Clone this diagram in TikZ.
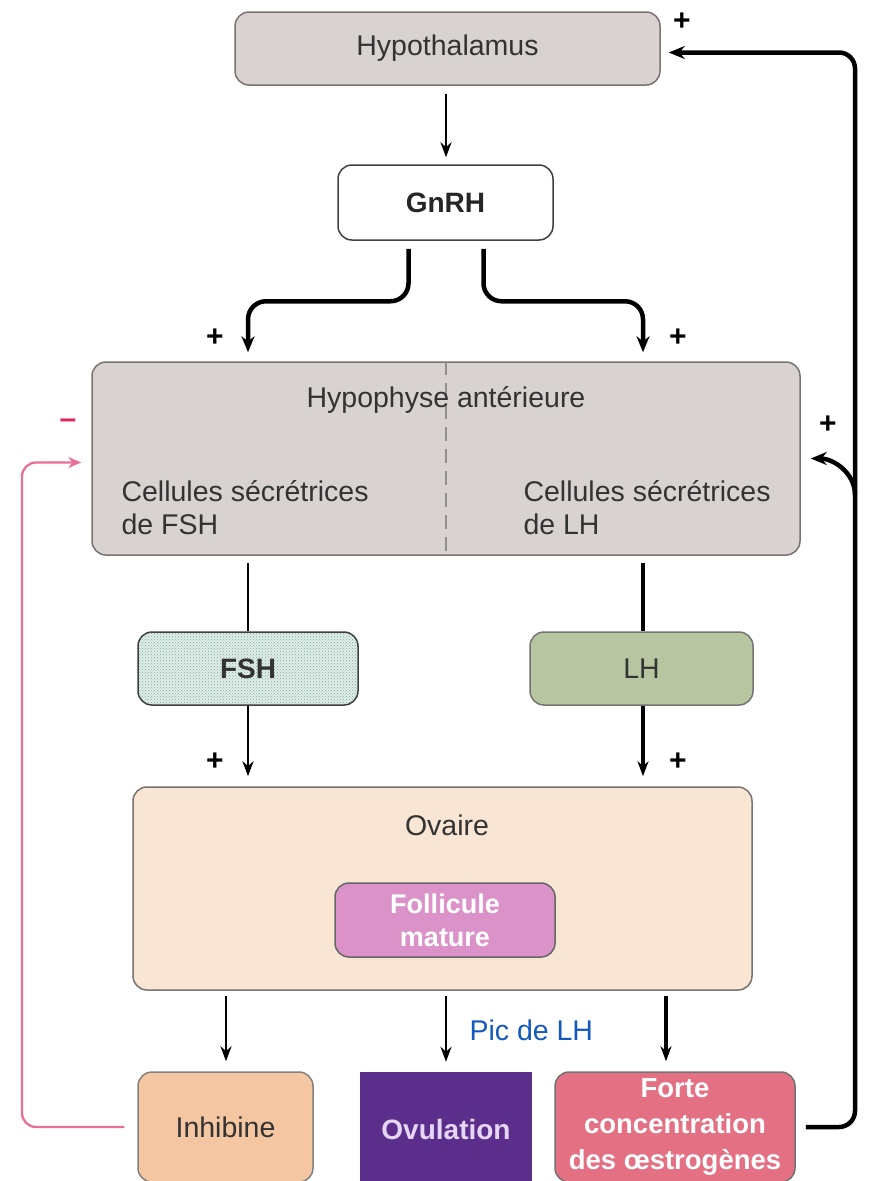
\documentclass[tikz,border=0pt]{standalone}
\usepackage{fontspec}
\setmainfont{Liberation Sans}
\usetikzlibrary{arrows.meta,patterns}
\definecolor{hypgray}{RGB}{216,211,208}
\definecolor{boxline}{RGB}{120,115,112}
\definecolor{fshfill}{RGB}{222,238,233}
\definecolor{fshdot}{RGB}{140,168,160}
\definecolor{lhfill}{RGB}{183,198,160}
\definecolor{ovafill}{RGB}{248,229,212}
\definecolor{follfill}{RGB}{218,146,200}
\definecolor{inhfill}{RGB}{244,198,162}
\definecolor{ovufill}{RGB}{92,46,140}
\definecolor{ovutext}{RGB}{228,214,244}
\definecolor{fortefill}{RGB}{228,112,132}
\definecolor{pinkline}{RGB}{232,112,150}
\definecolor{minuscol}{RGB}{222,40,92}
\definecolor{picblue}{RGB}{20,90,190}
\tikzset{
  box/.style={draw=boxline, line width=1.5pt, rounded corners=14pt, inner sep=0pt, align=center},
  txt/.style={font=\fontsize{28.5}{33}\selectfont, text=black!80},
  btxt/.style={font=\bfseries\fontsize{28}{35}\selectfont},
  arr/.style={line width=2.8pt, -{Stealth[length=15pt,width=11pt]}},
  plain/.style={line width=2.8pt},
  thickarr/.style={line width=4.5pt, -{Stealth[length=16pt,width=13pt]}},
  plus/.style={font=\bfseries\fontsize{30}{30}\selectfont, inner sep=0pt}
}
\begin{document}
\begin{tikzpicture}[x=1pt,y=-1pt]
\useasboundingbox[fill=white] (0,0) rectangle (881,1181);
% boxes
\node[box, fill=hypgray, minimum width=425pt, minimum height=73pt, txt] (hypo) at (447.5,48.5) {Hypothalamus};
\node[box, fill=white, draw=black!75, minimum width=215pt, minimum height=75pt, btxt, text=black!85] (gnrh) at (445.5,202.5) {GnRH};
\node[box, fill=hypgray, minimum width=708pt, minimum height=193pt] (hyp) at (446,458.5) {};
\draw[boxline!80, line width=1.5pt, dash pattern=on 14pt off 8pt] (hyp.north) -- (hyp.south);
\node[txt] (hyptitle) at (446,400) {Hypophyse antérieure};
\node[txt, anchor=west, align=left] (cfsh) at (118,508) {Cellules sécrétrices\\de FSH};
\node[txt, anchor=west, align=left] (clh) at (520,508) {Cellules sécrétrices\\de LH};
\node[box, draw=black!75, minimum width=220pt, minimum height=73pt, preaction={fill=fshfill}, pattern=crosshatch dots, pattern color=fshdot] (fsh) at (248,668.5) {};
\node[btxt, text=black!80] (fshlabel) at (fsh.center) {FSH};
\node[box, fill=lhfill, draw=black!55, minimum width=223pt, minimum height=73pt, txt] (lh) at (641.5,668.5) {LH};
\node[box, fill=ovafill, minimum width=619pt, minimum height=203pt] (ova) at (442.5,888.5) {};
\node[txt] (ovatitle) at (447,825) {Ovaire};
\node[box, fill=follfill, draw=black!60, minimum width=220pt, minimum height=74pt, btxt, text=white, font=\bfseries\fontsize{27}{33}\selectfont] (foll) at (445,920) {Follicule\\mature};
\node[box, fill=inhfill, draw=black!50, minimum width=175pt, minimum height=110pt, txt] (inhib) at (225.5,1127) {Inhibine};
\node[fill=ovufill, minimum width=172pt, minimum height=115pt, inner sep=0pt, btxt, text=ovutext] (ovu) at (446,1129.5) {Ovulation};
\node[box, fill=fortefill, draw=black!55, minimum width=240pt, minimum height=110pt, btxt, text=white, font=\bfseries\fontsize{27.5}{36}\selectfont] (forte) at (675,1127) {Forte\\concentration\\des œstrogènes};
% coordinates
\coordinate (cM) at (446,0);
\coordinate (cL) at (248,0);
\coordinate (cR) at (643,0);
\coordinate (c1) at (226,0);
\coordinate (c3) at (666,0);
\coordinate (fbL) at (22,0);
\coordinate (fbR) at (855,0);
\coordinate (br) at (855,495);
% connectors
\draw[arr] ([yshift=-8pt]hypo.south -| cM) -- ([yshift=7pt]gnrh.north -| cM);
\draw[thickarr, rounded corners=18pt] ([xshift=-37pt,yshift=-8pt]gnrh.south) |- ([yshift=60pt]hyp.north -| cL) -- ([yshift=9pt]hyp.north -| cL);
\draw[thickarr, rounded corners=18pt] ([xshift=38pt,yshift=-8pt]gnrh.south) |- ([yshift=60pt]hyp.north -| cR) -- ([yshift=9pt]hyp.north -| cR);
\draw[plain] ([yshift=-7pt]hyp.south -| fsh.north) -- (fsh.north);
\draw[arr] (fsh.south) -- ([yshift=10pt]ova.north -| fsh.south);
\draw[plain, line width=3.2pt] ([yshift=-7pt]hyp.south -| cR) -- (lh.north -| cR);
\draw[arr, line width=3.2pt] (lh.south -| cR) -- ([yshift=10pt]ova.north -| cR);
\draw[arr] ([yshift=-5pt]ova.south -| c1) -- ([yshift=10pt]inhib.north -| c1);
\draw[arr] ([yshift=-5pt]ova.south -| ovu.north) -- ([yshift=10pt]ovu.north);
\draw[arr, line width=3.6pt] ([yshift=-5pt]ova.south -| c3) -- ([yshift=10pt]forte.north -| c3);
% feedback loops
\draw[pinkline, line width=2.3pt, rounded corners=14pt, -{Stealth[length=13pt,width=11pt]}] ([xshift=-13pt]inhib.west) -| ([yshift=-4pt]hyp.west -| fbL) -- ([xshift=-10pt,yshift=-4pt]hyp.west);
\draw[thickarr, rounded corners=16pt] ([xshift=10pt]forte.east) -| ([yshift=-4pt]hypo.east -| fbR) -- ([xshift=8pt,yshift=-4pt]hypo.east);
\draw[thickarr] (br) to[out=90,in=0] ([xshift=10pt]hyp.east);
% signs
\node[plus] (p1) at (682,22) {+};
\node[plus] (p2) at (215,338) {+};
\node[plus] (p3) at (678,338) {+};
\node[plus] (p4) at (828,425) {+};
\node[plus] (p5) at (215,762) {+};
\node[plus] (p6) at (678,762) {+};
\node[plus, text=minuscol] (m1) at (68,424) {–};
\node[txt, text=picblue, anchor=west] (pic) at (466,1030) {Pic de LH};
\end{tikzpicture}
\end{document}
